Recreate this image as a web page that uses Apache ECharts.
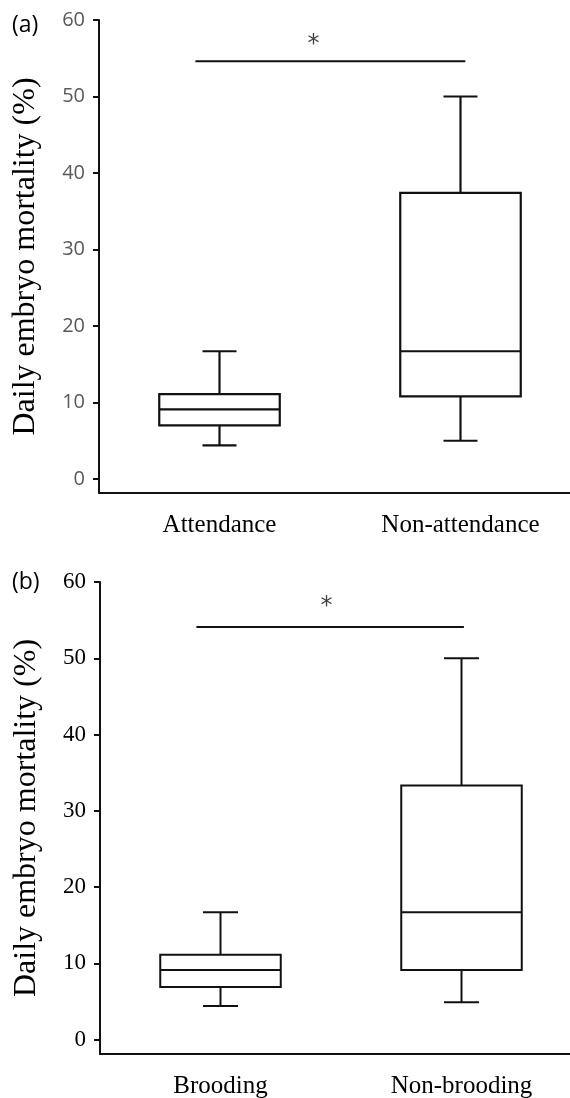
<!DOCTYPE html>
<html>
<head>
<meta charset="utf-8">
<script src="https://cdn.jsdelivr.net/npm/echarts@6/dist/echarts.min.js"></script>
<style>
  html, body { margin: 0; padding: 0; background: #fff; }
  #main { width: 570px; height: 1098px; }
</style>
</head>
<body>
<div id="main"></div>
<script>
// panel (a) - attendance
const catsA = ['Attendance', 'Non-attendance'];
// [min, Q1, median, Q3, max]
const boxA = [
  [4.4, 7.0, 9.1, 11.1, 16.7],
  [5.0, 10.8, 16.7, 37.4, 50.0]
];
const sigLineA = [[-0.1, 54.6], [1.02, 54.6]];
const starA = [[0.39, 56.8]];

// panel (b) - brooding
const catsB = ['Brooding', 'Non-brooding'];
const boxB = [
  [4.4, 6.9, 9.1, 11.1, 16.7],
  [4.9, 9.1, 16.7, 33.3, 50.0]
];
const sigLineB = [[-0.1, 54.1], [1.01, 54.1]];
const starB = [[0.44, 56.7]];

const yTicks = [0, 10, 20, 30, 40, 50, 60];

var myChart = echarts.init(document.getElementById('main'));

// box + whisker with short caps
function boxRenderer(lw, capW) {
  return function (params, api) {
    const x = api.value(0);
    const lo = api.coord([x, api.value(1)]);
    const q1 = api.coord([x, api.value(2)]);
    const med = api.coord([x, api.value(3)]);
    const q3 = api.coord([x, api.value(4)]);
    const hi = api.coord([x, api.value(5)]);
    const bw = api.size([1, 0])[0] * 0.5;
    const cx = lo[0];
    const st = { stroke: '#111', lineWidth: lw, fill: null };
    const line = (x1, y1, x2, y2) => ({ type: 'line', shape: { x1, y1, x2, y2 }, style: st });
    return {
      type: 'group',
      children: [
        line(cx, hi[1], cx, q3[1]),
        line(cx, q1[1], cx, lo[1]),
        line(cx - capW / 2, hi[1], cx + capW / 2, hi[1]),
        line(cx - capW / 2, lo[1], cx + capW / 2, lo[1]),
        { type: 'rect', shape: { x: cx - bw / 2, y: q3[1], width: bw, height: q1[1] - q3[1] },
          style: { stroke: '#111', lineWidth: lw, fill: '#fff' } },
        line(cx - bw / 2, med[1], cx + bw / 2, med[1])
      ]
    };
  };
}

function yAxisFor(gridIndex, min, labelStyle) {
  return {
    type: 'value', gridIndex, min, max: 60,
    name: 'Daily embryo mortality (%)',
    nameLocation: 'middle', nameGap: 57,
    nameTextStyle: { fontFamily: 'Liberation Serif', fontSize: 32, color: '#000' },
    axisLine: { show: true, onZero: false, lineStyle: { color: '#111', width: 2 } },
    axisTick: { show: true, length: 6, customValues: yTicks, lineStyle: { color: '#111', width: 2 } },
    axisLabel: Object.assign({ customValues: yTicks, margin: 14 }, labelStyle),
    splitLine: { show: false }
  };
}

function catAxis(gridIndex, cats) {
  return {
    type: 'category', gridIndex, data: cats,
    axisLine: { onZero: false, lineStyle: { color: '#111', width: 2 } },
    axisTick: { show: false },
    axisLabel: { fontFamily: 'Liberation Serif', fontSize: 25, color: '#000', margin: 20 }
  };
}

function helperAxis(gridIndex) {
  return { type: 'value', gridIndex, min: -0.5, max: 1.5, show: false };
}

const toRows = (box) => box.map((b, i) => [i].concat(b));

let option = {
  animation: false,
  title: [
    { text: '(a)', left: 12, top: 14, padding: 0,
      textStyle: { fontFamily: 'Open Sans', fontSize: 23, fontWeight: 'normal', color: '#000' } },
    { text: '(b)', left: 12, top: 571, padding: 0,
      textStyle: { fontFamily: 'Open Sans', fontSize: 23, fontWeight: 'normal', color: '#000' } }
  ],
  grid: [
    { left: 99, top: 20, width: 482, height: 473, outerBoundsMode: 'none', containLabel: false },
    { left: 100, top: 582, width: 482, height: 472, outerBoundsMode: 'none', containLabel: false }
  ],
  xAxis: [catAxis(0, catsA), helperAxis(0), catAxis(1, catsB), helperAxis(1)],
  yAxis: [
    yAxisFor(0, -1.83, { fontFamily: 'Open Sans', fontSize: 20, color: '#595959' }),
    yAxisFor(1, -1.9, { fontFamily: 'Liberation Serif', fontSize: 23, color: '#000' })
  ],
  series: [
    { type: 'custom', xAxisIndex: 0, yAxisIndex: 0, data: toRows(boxA),
      encode: { x: 0, y: [1, 2, 3, 4, 5] }, renderItem: boxRenderer(2.2, 34) },
    { type: 'custom', xAxisIndex: 2, yAxisIndex: 1, data: toRows(boxB),
      encode: { x: 0, y: [1, 2, 3, 4, 5] }, renderItem: boxRenderer(2, 35) },
    { type: 'line', xAxisIndex: 1, yAxisIndex: 0, data: sigLineA, symbol: 'none',
      lineStyle: { color: '#111', width: 2 } },
    { type: 'line', xAxisIndex: 3, yAxisIndex: 1, data: sigLineB, symbol: 'none',
      lineStyle: { color: '#111', width: 2 } },
    { type: 'scatter', xAxisIndex: 1, yAxisIndex: 0, data: starA, symbolSize: 0,
      label: { show: true, position: 'inside', formatter: '*', fontFamily: 'DejaVu Sans', fontSize: 24, color: '#111' } },
    { type: 'scatter', xAxisIndex: 3, yAxisIndex: 1, data: starB, symbolSize: 0,
      label: { show: true, position: 'inside', formatter: '*', fontFamily: 'DejaVu Sans', fontSize: 24, color: '#111' } }
  ]
};

myChart.setOption(option);
</script>
</body>
</html>
